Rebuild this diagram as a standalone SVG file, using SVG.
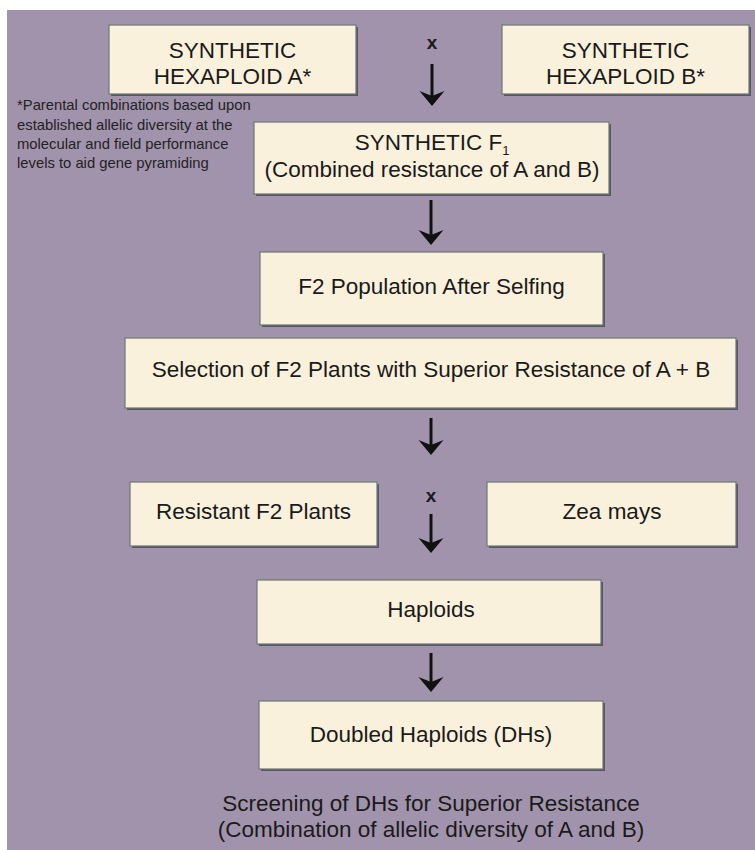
<svg xmlns="http://www.w3.org/2000/svg" width="755" height="850" viewBox="0 0 755 850">
<style>
.bx{fill:#FAF1DC;stroke:#6d7775;stroke-width:1.2}
.sh{fill:#4b4a57;opacity:0.85}
.t{font-family:"Liberation Sans",Arial,sans-serif;font-size:22.5px;fill:#1a1a1a;text-anchor:middle}
.fn{font-family:"Liberation Sans",Arial,sans-serif;font-size:14.8px;fill:#222}
.x{font-family:"Liberation Sans",Arial,sans-serif;font-size:19px;font-weight:bold;fill:#1a1a1a;text-anchor:middle}
.ar{stroke:#111;stroke-width:3;fill:none;marker-end:url(#ah)}
</style>
<defs>
<marker id="ah" markerUnits="userSpaceOnUse" markerWidth="16" markerHeight="26" viewBox="0 0 16 26" refX="9" refY="13" orient="auto">
<path d="M0,0.5 L15,13 L0,25.5 L5,13 Z" fill="#111"/>
</marker>
</defs>
<rect x="0" y="0" width="755" height="850" fill="#ffffff"/>
<rect x="7" y="10" width="748" height="840" fill="#A293AD"/>

<g id="hexA">
<rect class="sh" x="111" y="27" width="247" height="69"/>
<rect class="bx" x="109" y="25" width="247" height="69"/>
<text class="t" x="232.5" y="58">SYNTHETIC</text>
<text class="t" x="232.5" y="84">HEXAPLOID A*</text>
</g>
<g id="hexB">
<rect class="sh" x="504" y="27" width="247" height="69"/>
<rect class="bx" x="502" y="25" width="247" height="69"/>
<text class="t" x="625.5" y="58">SYNTHETIC</text>
<text class="t" x="625.5" y="84">HEXAPLOID B*</text>
</g>
<g id="footnote">
<text class="fn" x="17" y="110">*Parental combinations based upon</text>
<text class="fn" x="17" y="130">established allelic diversity at the</text>
<text class="fn" x="17" y="149">molecular and field performance</text>
<text class="fn" x="17" y="168">levels to aid gene pyramiding</text>
</g>
<g id="f1">
<rect class="sh" x="256" y="124" width="355" height="72"/>
<rect class="bx" x="254" y="122" width="355" height="72"/>
<text class="t" x="432" y="150">SYNTHETIC F<tspan font-size="13" dy="5">1</tspan></text>
<text class="t" x="432" y="177">(Combined resistance of A and B)</text>
</g>
<g id="f2pop">
<rect class="sh" x="262" y="254" width="343" height="73"/>
<rect class="bx" x="260" y="252" width="343" height="73"/>
<text class="t" x="431.5" y="294">F2 Population After Selfing</text>
</g>
<g id="selection">
<rect class="sh" x="127" y="340" width="611" height="70"/>
<rect class="bx" x="125" y="338" width="611" height="70"/>
<text class="t" x="431" y="377">Selection of F2 Plants with Superior Resistance of A + B</text>
</g>
<g id="resistant">
<rect class="sh" x="132" y="484" width="247" height="64"/>
<rect class="bx" x="130" y="482" width="247" height="64"/>
<text class="t" x="253.5" y="519">Resistant F2 Plants</text>
</g>
<g id="zea">
<rect class="sh" x="489" y="484" width="249" height="64"/>
<rect class="bx" x="487" y="482" width="249" height="64"/>
<text class="t" x="612" y="519">Zea mays</text>
</g>
<g id="haploids">
<rect class="sh" x="259" y="582" width="344" height="64"/>
<rect class="bx" x="257" y="580" width="344" height="64"/>
<text class="t" x="431" y="617">Haploids</text>
</g>
<g id="dh">
<rect class="sh" x="261" y="703" width="344" height="68"/>
<rect class="bx" x="259" y="701" width="344" height="68"/>
<text class="t" x="431" y="742">Doubled Haploids (DHs)</text>
</g>
<g id="screening">
<text class="t" x="431" y="811">Screening of DHs for Superior Resistance</text>
<text class="t" x="431" y="837">(Combination of allelic diversity of A and B)</text>
</g>
<g id="connectors">
<text class="x" x="432" y="49">x</text>
<line class="ar" x1="432" y1="64" x2="432" y2="100"/>
<line class="ar" x1="431" y1="200" x2="431" y2="239"/>
<line class="ar" x1="431" y1="418" x2="431" y2="449"/>
<text class="x" x="431" y="502">x</text>
<line class="ar" x1="431" y1="514" x2="431" y2="547"/>
<line class="ar" x1="431" y1="653" x2="431" y2="686"/>
</g>
</svg>
